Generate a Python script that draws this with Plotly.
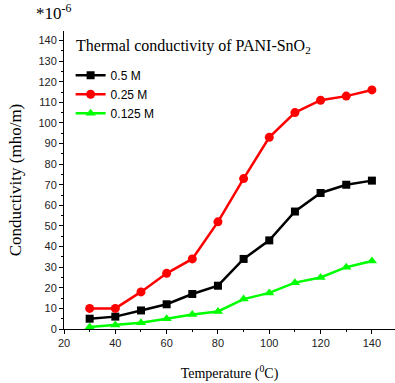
import plotly.graph_objects as go

temps = [30, 40, 50, 60, 70, 80, 90, 100, 110, 120, 130, 140]
s_05 = [5, 6, 9, 12, 17, 21, 34, 43, 57, 66, 70, 72]
s_025 = [10, 10, 18, 27, 34, 52, 73, 93, 105, 111, 113, 116]
s_0125 = [1, 2, 3, 5, 7, 8.5, 14.5, 17.5, 22.5, 25, 30, 33]
names = ["0.5 M", "0.25 M", "0.125 M"]

fig = go.Figure()
fig.add_trace(go.Scatter(x=temps, y=s_05, name=names[0], mode="lines+markers",
                         line=dict(color="#000000", width=2.5),
                         marker=dict(symbol="square", size=8, color="#000000")))
fig.add_trace(go.Scatter(x=temps, y=s_025, name=names[1], mode="lines+markers",
                         line=dict(color="#FF0000", width=2.5),
                         marker=dict(symbol="circle", size=9, color="#FF0000")))
fig.add_trace(go.Scatter(x=temps, y=s_0125, name=names[2], mode="lines+markers",
                         line=dict(color="#00FF00", width=2.5),
                         marker=dict(symbol="triangle-up", size=9, color="#00FF00")))

axis_common = dict(showgrid=False, zeroline=False, showline=True, linecolor="#000000",
                   linewidth=1, ticks="outside", ticklen=4, tickcolor="#000000",
                   tickfont=dict(family="Liberation Sans, Arial", size=11, color="#222"))

fig.update_layout(
    width=395, height=383,
    margin=dict(l=64, r=0, t=31, b=54),
    paper_bgcolor="white", plot_bgcolor="white",
    showlegend=True,
    legend=dict(x=0.02, y=0.90, xanchor="left", yanchor="top",
                font=dict(family="Liberation Sans, Arial", size=12, color="#000"),
                bgcolor="rgba(0,0,0,0)", tracegroupgap=0, itemwidth=30),
    xaxis=dict(range=[20, 149], dtick=20, tick0=20,
               minor=dict(dtick=10, ticks="outside", ticklen=2, tickcolor="#000"),
               title=dict(text="Temperature (<sup>0</sup>C)",
                          font=dict(family="Liberation Serif", size=14, color="#000"),
                          standoff=19),
               **axis_common),
    yaxis=dict(range=[0, 144.6], dtick=10, tick0=0,
               minor=dict(dtick=5, ticks="outside", ticklen=2, tickcolor="#000"),
               title=dict(text="Conductivity (mho/m)",
                          font=dict(family="Liberation Serif", size=17, color="#000"),
                          standoff=12),
               **axis_common),
    annotations=[
        dict(text="Thermal conductivity of PANI-SnO<sub>2</sub>", xref="paper", yref="paper",
             x=0.03, y=0.985, xanchor="left", yanchor="top", showarrow=False,
             font=dict(family="Liberation Serif", size=16, color="#000")),
        dict(text="*10<sup>-6</sup>", xref="paper", yref="paper",
             x=-0.09, y=1.02, xanchor="left", yanchor="bottom", showarrow=False,
             font=dict(family="Liberation Serif", size=17, color="#000")),
    ],
)

fig.write_html("out.html")
